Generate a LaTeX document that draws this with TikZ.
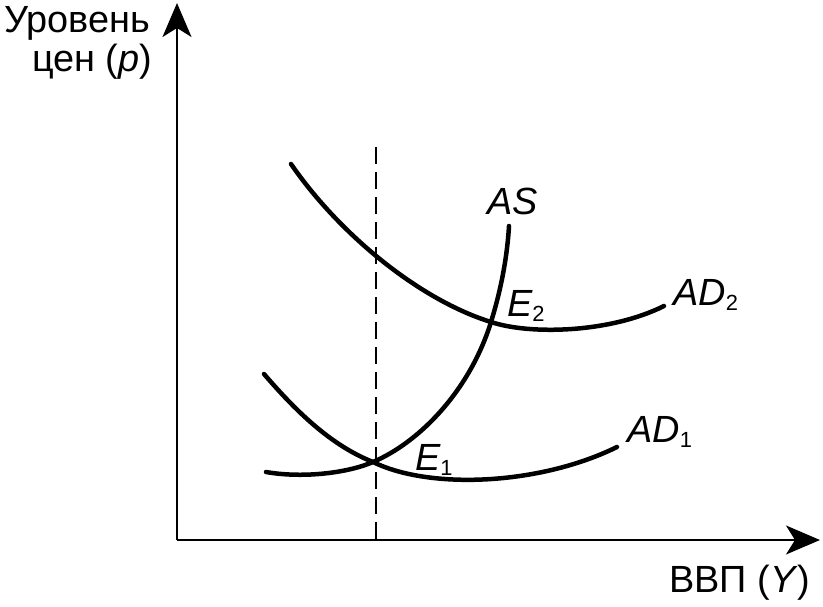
\documentclass[tikz,border=0pt]{standalone}
\usepackage{fontspec}
\setmainfont{Liberation Sans}
\usetikzlibrary{arrows.meta}
\tikzset{
  axis/.style={line width=2bp,-{Stealth[length=34bp,width=29bp,inset=9bp]}},
  curve/.style={line width=4.5bp,line cap=round},
  guide/.style={line width=1.6bp,dash pattern=on 17bp off 8bp},
  axlabel/.style={inner sep=0pt,anchor=base west,font=\fontsize{38}{40}\selectfont},
  crlabel/.style={inner sep=0pt,anchor=base west,font=\fontsize{38}{40}\selectfont\itshape},
}
\newcommand{\sbs}[1]{\raisebox{-5bp}{\fontsize{22}{22}\selectfont\upshape #1}}
\begin{document}
\begin{tikzpicture}[x=1bp,y=-1bp]
\useasboundingbox (0,0) rectangle (823,607);
% axes
\coordinate (O) at (177,540);
\coordinate (ytop) at (177,3);
\coordinate (xend) at (820,540);
\draw[axis] (O) -- (ytop);
\draw[axis] (O) -- (xend);
% dashed guide
\coordinate (dtop) at (376,147);
\coordinate (dbot) at (376,540);
\draw[guide] (dtop) -- (dbot);
% equilibrium points and curve ends
\coordinate (E1) at (373,462);
\coordinate (E2) at (491,322);
\coordinate (a1) at (291,164);
\coordinate (a8) at (664,306);
\coordinate (b1) at (264,374);
\coordinate (b6) at (617,447);
\coordinate (s1) at (266,472);
\coordinate (s7) at (509,226);
% AD2
\draw[curve] (a1) .. controls (340,235) and (420,300) .. (E2)
                  .. controls (530,335) and (610,333) .. (a8);
% AD1
\draw[curve] (b1) .. controls (295,410) and (330,445) .. (E1)
                  .. controls (430,490) and (540,485) .. (b6);
% AS
\draw[curve] (s1) .. controls (300,478) and (345,474) .. (E1)
                  .. controls (420,442) and (470,390) .. (E2)
                  .. controls (500,293) and (507,260) .. (s7);
% labels
\node[axlabel] (ylab1) at (4,33) {Уровень};
\node[axlabel] (ylab2) at (32,72) {цен (\textit{p})};
\node[axlabel] (xlab) at (669,592) {ВВП (\textit{Y})};
\node[crlabel] (lAS) at (487,215) {AS};
\node[crlabel] (lE2) at (507,316) {E\sbs{2}};
\node[crlabel] (lAD2) at (673,305) {AD\sbs{2}};
\node[crlabel] (lAD1) at (627,442) {AD\sbs{1}};
\node[crlabel] (lE1) at (415,470) {E\sbs{1}};
\end{tikzpicture}
\end{document}
